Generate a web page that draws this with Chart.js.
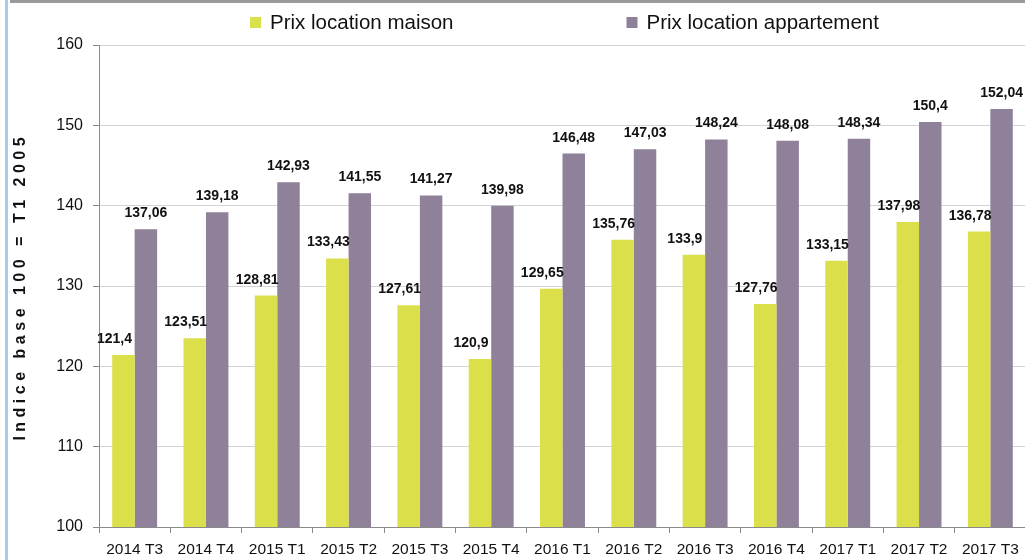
<!DOCTYPE html>
<html>
<head>
<meta charset="utf-8">
<script src="https://cdn.jsdelivr.net/npm/chart.js@4.4.1/dist/chart.umd.min.js"></script>
<style>
  html, body { margin: 0; padding: 0; background: #fff; overflow: hidden; }
  #wrap { position: relative; width: 1025px; height: 560px; overflow: hidden; }
  #chart { position: absolute; left: 0; top: 0; }
  .edge { position: absolute; left: 5px; top: 0; width: 3px; height: 560px; background: #a9cbe9; }
  .topbar { position: absolute; left: 10px; top: 0; right: 0; height: 3px; background: #9a9a9a; }
</style>
</head>
<body>
<div id="wrap">
  <canvas id="chart" width="1028" height="560"></canvas>
  <div class="edge"></div>
  <div class="topbar"></div>
</div>
<script>
const quarters = ['2014 T3', '2014 T4', '2015 T1', '2015 T2', '2015 T3', '2015 T4', '2016 T1',
  '2016 T2', '2016 T3', '2016 T4', '2017 T1', '2017 T2', '2017 T3'];
const maison = [121.4, 123.51, 128.81, 133.43, 127.61, 120.9, 129.65, 135.76, 133.9, 127.76, 133.15, 137.98, 136.78];
const appartement = [137.06, 139.18, 142.93, 141.55, 141.27, 139.98, 146.48, 147.03, 148.24, 148.08, 148.34, 150.4, 152.04];
const seriesNames = ['Prix location maison', 'Prix location appartement'];
const yTitle = 'Indice base 100 = T1 2005';
const yMin = 100;
const yMax = 160;
const yStep = 10;

const colors = ['#dbe04a', '#8e8199'];
const FONT = '"Liberation Sans", Arial, sans-serif';

// value labels above bars, french decimal comma
const valueLabels = {
  id: 'valueLabels',
  afterDatasetsDraw(chart) {
    const ctx = chart.ctx;
    ctx.save();
    ctx.font = 'bold 14px ' + FONT;
    ctx.fillStyle = '#111';
    ctx.textAlign = 'center';
    ctx.textBaseline = 'alphabetic';
    chart.data.datasets.forEach((ds, i) => {
      const shift = i === 0 ? -9 : 0;
      chart.getDatasetMeta(i).data.forEach((bar, j) => {
        ctx.fillText(String(ds.data[j]).replace('.', ','), bar.x + shift, bar.y - 12);
      });
    });
    ctx.restore();
  }
};

// legend row on top + spaced-out y title
const decorations = {
  id: 'decorations',
  afterDraw(chart) {
    const ctx = chart.ctx;
    const area = chart.chartArea;
    ctx.save();
    ctx.font = '20.5px ' + FONT;
    ctx.textBaseline = 'alphabetic';
    const box = 11, gapBox = 9, gapItems = 173;
    const widths = seriesNames.map((n) => ctx.measureText(n).width);
    const total = widths.reduce((a, w) => a + w + box + gapBox, 0) + gapItems;
    let x = (area.left + area.right) / 2 + 2 - total / 2;
    seriesNames.forEach((name, i) => {
      ctx.fillStyle = colors[i];
      ctx.fillRect(x, 17, box, box);
      ctx.fillStyle = '#111';
      ctx.fillText(name, x + box + gapBox, 28.5);
      x += box + gapBox + widths[i] + gapItems;
    });

    ctx.font = 'bold 16px ' + FONT;
    const spacing = 4.5;
    const chars = [...yTitle];
    const cw = chars.map((c) => ctx.measureText(c).width);
    const len = cw.reduce((a, w) => a + w, 0) + spacing * (chars.length - 1);
    ctx.translate(25, 289);
    ctx.rotate(-Math.PI / 2);
    let p = -len / 2;
    chars.forEach((c, i) => {
      ctx.fillText(c, p, 0);
      p += cw[i] + spacing;
    });
    ctx.restore();
  }
};

new Chart(document.getElementById('chart'), {
  type: 'bar',
  data: {
    labels: quarters,
    datasets: [
      { label: seriesNames[0], data: maison, backgroundColor: colors[0] },
      { label: seriesNames[1], data: appartement, backgroundColor: colors[1] }
    ]
  },
  options: {
    responsive: false,
    animation: false,
    datasets: { bar: { categoryPercentage: 0.63, barPercentage: 1.0 } },
    layout: { padding: { top: 45, right: 2, left: 0, bottom: 0 } },
    plugins: {
      legend: { display: false },
      tooltip: { enabled: false }
    },
    scales: {
      x: {
        offset: true,
        grid: { drawOnChartArea: false, offset: true, tickLength: 6, color: '#8a8a8a' },
        border: { color: '#8a8a8a' },
        ticks: { font: { family: FONT, size: 15.5 }, color: '#111', padding: 7, maxRotation: 0, autoSkip: false },
        afterFit: (s) => { s.height = 33; }
      },
      y: {
        min: yMin,
        max: yMax,
        grid: { color: '#d3d3d3', tickColor: '#8a8a8a', tickLength: 6 },
        border: { color: '#8a8a8a' },
        ticks: { stepSize: yStep, font: { family: FONT, size: 16 }, color: '#111', padding: 10 },
        afterFit: (s) => { s.width = 99; }
      }
    }
  },
  plugins: [valueLabels, decorations]
});
</script>
</body>
</html>
